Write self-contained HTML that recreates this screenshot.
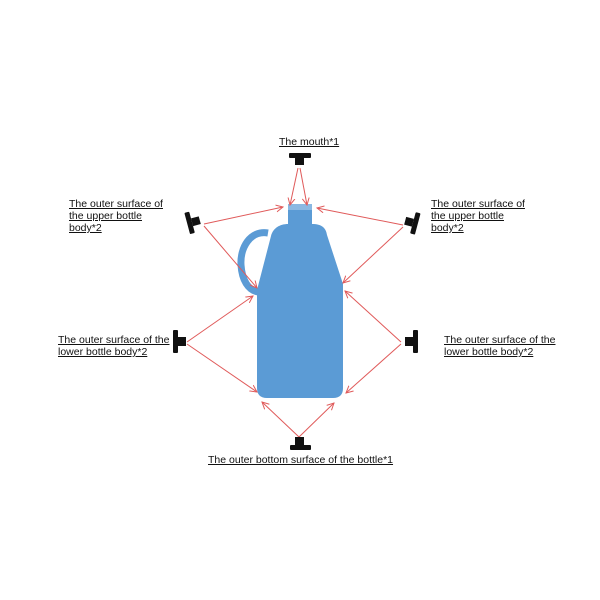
<!DOCTYPE html>
<html><head><style>
body{margin:0;background:#fff;}
.t{position:absolute;font-family:"Liberation Sans",sans-serif;font-size:10.5px;text-decoration:underline;color:#111;line-height:12px;}
</style></head><body>
<div style="position:relative;width:600px;height:600px;">
<svg width="600" height="600" style="position:absolute;left:0;top:0">
<defs><marker id="a" markerWidth="8" markerHeight="8" refX="7" refY="4" orient="auto" markerUnits="userSpaceOnUse"><path d="M0,0.5 L7,4 L0,7.5" fill="none" stroke="#e05a5a" stroke-width="1"/></marker></defs>
<!-- handle -->
<path d="M268,233 C250,230 240,248 241,265 C242,280 248,290 258,292" fill="none" stroke="#5b9bd5" stroke-width="7"/>
<!-- bottle -->
<path d="M288,205 L312,205 L312,224 C322,224 326,228 327,235 L343,284 L343,388 Q343,398 333,398 L267,398 Q257,398 257,388 L257,290 L271,236 C273,228 280,224 288,224 Z" fill="#5b9bd5"/>
<rect x="288" y="204" width="24" height="6" fill="#8ab8e2"/>
<g stroke="#e05a5a" stroke-width="1" marker-end="url(#a)">
<line x1="298" y1="168" x2="290" y2="205"/>
<line x1="300" y1="168" x2="307" y2="205"/>
<line x1="204" y1="224" x2="283" y2="207"/>
<line x1="204" y1="226" x2="257" y2="288"/>
<line x1="403" y1="225" x2="317" y2="208"/>
<line x1="403" y1="227" x2="343" y2="283"/>
<line x1="187" y1="342" x2="253" y2="296"/>
<line x1="187" y1="344" x2="257" y2="392"/>
<line x1="401" y1="342" x2="345" y2="291"/>
<line x1="401" y1="344" x2="346" y2="393"/>
<line x1="299" y1="437" x2="262" y2="402"/>
<line x1="299" y1="437" x2="334" y2="403"/>
</g>
<g fill="#111">
<rect x="289" y="153" width="22" height="5" rx="1"/><rect x="295" y="158" width="9" height="7"/>
<rect x="290" y="445" width="21" height="5" rx="1"/><rect x="295" y="437" width="9" height="8"/>
<rect x="173" y="330" width="5" height="23" rx="1"/><rect x="178" y="337" width="8" height="9"/>
<rect x="413" y="330" width="5" height="23" rx="1"/><rect x="405" y="337" width="8" height="9"/>
<g transform="rotate(-15 193 222)"><rect x="187" y="211" width="5" height="22" rx="1"/><rect x="192" y="218" width="8" height="8"/></g>
<g transform="rotate(15 410 222)"><rect x="413" y="211" width="5" height="22" rx="1"/><rect x="405" y="218" width="8" height="8"/></g>
</g>
</svg>
<div class="t" style="left:279px;top:136px">The mouth*1</div>
<div class="t" style="left:69px;top:198px">The outer surface of<br>the upper bottle<br>body*2</div>
<div class="t" style="left:431px;top:198px">The outer surface of<br>the upper bottle<br>body*2</div>
<div class="t" style="left:58px;top:334px">The outer surface of the<br>lower bottle body*2</div>
<div class="t" style="left:444px;top:334px">The outer surface of the<br>lower bottle body*2</div>
<div class="t" style="left:208px;top:454px">The outer bottom surface of the bottle*1</div>
</div>
</body></html>
